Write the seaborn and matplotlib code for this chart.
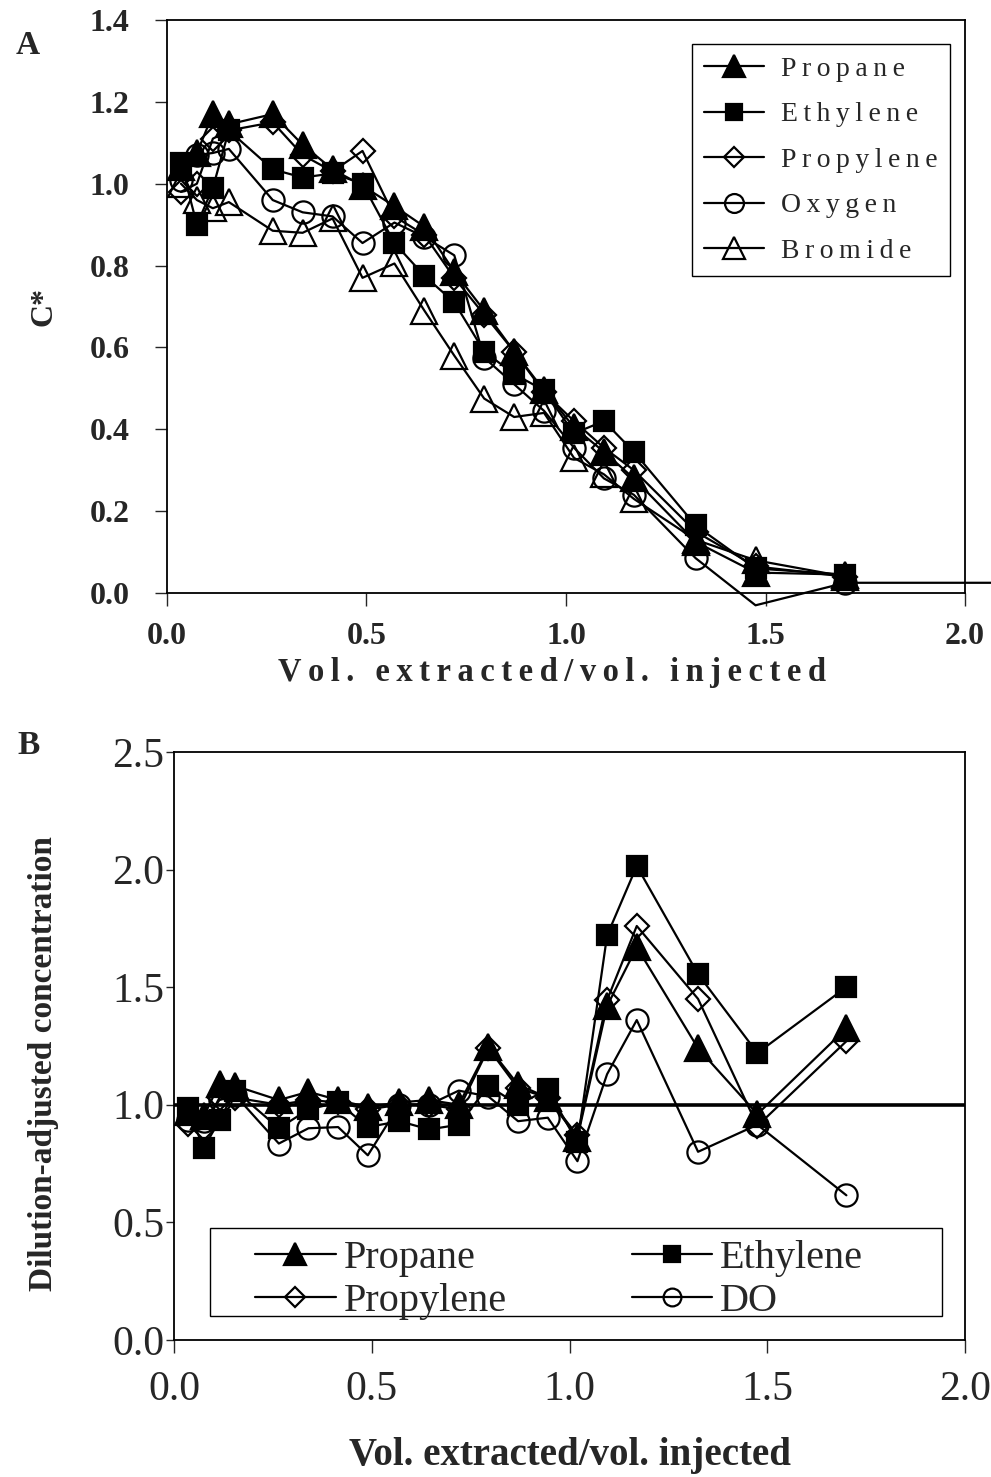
import seaborn as sns
import matplotlib.pyplot as plt
from matplotlib.patches import Rectangle

# shared sampling points (vol. extracted / vol. injected)
x = [0.035, 0.075, 0.115, 0.155, 0.265, 0.34, 0.415, 0.49, 0.57, 0.645,
     0.72, 0.795, 0.87, 0.945, 1.02, 1.095, 1.17, 1.325, 1.475, 1.70]

# panel A: C*
propane_a = [1.04, 1.075, 1.17, 1.145, 1.17, 1.095, 1.035, 0.995, 0.945, 0.895,
             0.785, 0.69, 0.59, 0.495, 0.405, 0.345, 0.28, 0.125, 0.05, 0.045]
ethylene_a = [1.05, 0.90, 0.99, 1.13, 1.035, 1.015, 1.025, 1.0, 0.855, 0.775,
              0.71, 0.59, 0.535, 0.495, 0.39, 0.42, 0.345, 0.165, 0.06, 0.045]
propylene_a = [0.98, 1.0, 1.11, 1.13, 1.15, 1.07, 1.03, 1.08, 0.92, 0.875,
               0.77, 0.68, 0.59, 0.49, 0.42, 0.355, 0.30, 0.15, 0.065, 0.04]
x_oxygen = x + [2.10]
oxygen_a = [1.01, 1.07, 1.075, 1.085, 0.96, 0.93, 0.92, 0.855, 0.905, 0.87,
            0.825, 0.575, 0.51, 0.445, 0.355, 0.28, 0.24, 0.085, -0.03, 0.025, 0.025]
bromide_a = [1.0, 0.96, 0.94, 0.955, 0.885, 0.88, 0.915, 0.77, 0.805, 0.69,
             0.58, 0.475, 0.43, 0.44, 0.33, 0.29, 0.23, 0.13, 0.08, 0.04]

# panel B: dilution-adjusted concentration
propane_b = [0.97, 0.95, 1.09, 1.08, 1.02, 1.055, 1.02, 0.99, 1.01, 1.02,
             1.0, 1.245, 1.085, 1.03, 0.86, 1.42, 1.67, 1.24, 0.96, 1.325]
ethylene_b = [0.985, 0.815, 0.935, 1.06, 0.90, 0.98, 1.01, 0.905, 0.93, 0.895,
              0.915, 1.08, 1.0, 1.065, 0.84, 1.72, 2.015, 1.555, 1.22, 1.50]
propylene_b = [0.92, 0.90, 1.03, 1.03, 1.0, 1.02, 1.01, 0.98, 1.0, 1.0,
               0.98, 1.24, 1.07, 1.03, 0.87, 1.445, 1.76, 1.45, 0.91, 1.27]
do_b = [0.935, 0.93, 1.02, 1.04, 0.835, 0.90, 0.905, 0.785, 1.0, 1.0,
        1.06, 1.035, 0.93, 0.945, 0.76, 1.13, 1.36, 0.80, 0.915, 0.615]

ticks_a_y = [0.0, 0.2, 0.4, 0.6, 0.8, 1.0, 1.2, 1.4]
ticks_x = [0.0, 0.5, 1.0, 1.5, 2.0]
ticks_b_y = [0.0, 0.5, 1.0, 1.5, 2.0, 2.5]

sns.set_style('ticks')
plt.rcParams['font.family'] = ['Liberation Serif', 'DejaVu Serif']
plt.rcParams['axes.linewidth'] = 1.3


def spaced(s):
    # Excel-style letter spacing
    return '\u2009'.join(s)


styles = {
    'Propane': dict(marker='^', markersize=19, markerfacecolor='black'),
    'Ethylene': dict(marker='s', markersize=14, markerfacecolor='black'),
    'Propylene': dict(marker='D', markersize=12.5, markerfacecolor='none'),
    'Oxygen': dict(marker='o', markersize=16, markerfacecolor='none'),
    'Bromide': dict(marker='^', markersize=19, markerfacecolor='none'),
}


def draw(ax, xs, ys, name, label, **extra):
    st = dict(styles[name])
    st.update(extra)
    sns.lineplot(x=xs, y=ys, ax=ax, sort=False, color='black', linewidth=1.6,
                 markeredgecolor='black', markeredgewidth=1.6, label=label, **st)


fig = plt.figure(figsize=(9.91, 14.77), dpi=100)
ax_a = fig.add_axes([0.1685, 0.5985, 0.8053, 0.3880])
ax_b = fig.add_axes([0.1756, 0.0928, 0.7982, 0.3981])

# ---- panel A
leg_a = [spaced('Propane'), spaced('Ethylene'), spaced('Propylene'),
         spaced('Oxygen'), spaced('Bromide')]
draw(ax_a, x, propane_a, 'Propane', leg_a[0])
draw(ax_a, x, ethylene_a, 'Ethylene', leg_a[1])
draw(ax_a, x, propylene_a, 'Propylene', leg_a[2])
draw(ax_a, x_oxygen, oxygen_a, 'Oxygen', leg_a[3], clip_on=False,
     markevery=[i for i in range(len(x_oxygen)) if i not in (18, 20)])
draw(ax_a, x, bromide_a, 'Bromide', leg_a[4])

ax_a.set_xlim(0, 2.0)
ax_a.set_ylim(0, 1.4)
ax_a.set_xticks(ticks_x)
ax_a.set_xticklabels([f'{t:.1f}' for t in ticks_x], fontsize=23, fontweight='bold')
ax_a.set_yticks(ticks_a_y)
ax_a.set_yticklabels([f'{t:.1f}' for t in ticks_a_y], fontsize=23, fontweight='bold')
ax_a.tick_params(axis='y', direction='out', length=9, width=1, pad=18)
ax_a.tick_params(axis='x', direction='out', length=9, width=1, pad=12)
ax_a.set_xlabel(spaced('Vol. extracted/vol. injected'), fontsize=23.5, fontweight='bold', labelpad=4)
ax_a.xaxis.label.set_x(0.482)
ax_a.set_ylabel('C*', fontsize=23, fontweight='bold', labelpad=22)
for sp in ax_a.spines.values():
    sp.set_visible(True)
    sp.set_color('black')
ax_a.legend(loc='upper right', bbox_to_anchor=(0.981, 0.958), borderaxespad=0,
            fancybox=False, edgecolor='black', framealpha=1, fontsize=20,
            handlelength=2.15, markerscale=0.85, labelspacing=0.72,
            borderpad=0.45, handletextpad=0.6)
ax_a.get_legend().get_frame().set_linewidth(1.0)

# ---- panel B
ax_b.axhline(1.0, color='black', linewidth=2.6, zorder=1)
draw(ax_b, x, propane_b, 'Propane', 'Propane')
draw(ax_b, x, ethylene_b, 'Ethylene', 'Ethylene')
draw(ax_b, x, propylene_b, 'Propylene', 'Propylene')
draw(ax_b, x, do_b, 'Oxygen', 'DO')

ax_b.set_xlim(0, 2.0)
ax_b.set_ylim(0, 2.5)
ax_b.set_xticks(ticks_x)
ax_b.set_xticklabels([f'{t:.1f}' for t in ticks_x], fontsize=30)
ax_b.set_yticks(ticks_b_y)
ax_b.set_yticklabels([f'{t:.1f}' for t in ticks_b_y], fontsize=30)
ax_b.tick_params(axis='y', direction='out', length=6, width=1, pad=1)
ax_b.tick_params(axis='x', direction='out', length=9, width=1, pad=13)
ax_b.set_xlabel('Vol. extracted/vol. injected', fontsize=28, fontweight='bold', labelpad=20)
ax_b.set_ylabel('Dilution-adjusted concentration', fontsize=24, fontweight='bold', labelpad=38)
ax_b.yaxis.label.set_y(0.47)
for sp in ax_b.spines.values():
    sp.set_visible(True)
    sp.set_color('black')

# legend box drawn separately so the two columns can sit like the original
ax_b.add_patch(Rectangle((0.0455, 0.041), 0.925, 0.1497, transform=ax_b.transAxes,
                         facecolor='white', edgecolor='black', linewidth=1.0, zorder=4))
h, l = ax_b.get_legend_handles_labels()
order = [0, 2, 1, 3]
leg = ax_b.legend([h[i] for i in order], [l[i] for i in order],
                  loc='center left', bbox_to_anchor=(0.1024, 0.102), ncol=2,
                  borderaxespad=0, frameon=False, fontsize=29, handlelength=2.0,
                  markerscale=0.8, labelspacing=0.14, borderpad=0.0,
                  handletextpad=0.2, columnspacing=3.1)
leg.set_zorder(5)

fig.text(0.016, 0.969, 'A', fontsize=24, fontweight='bold', ha='left', va='center')
fig.text(0.018, 0.495, 'B', fontsize=24, fontweight='bold', ha='left', va='center')

fig.savefig('out.png', dpi=100, facecolor='white')
